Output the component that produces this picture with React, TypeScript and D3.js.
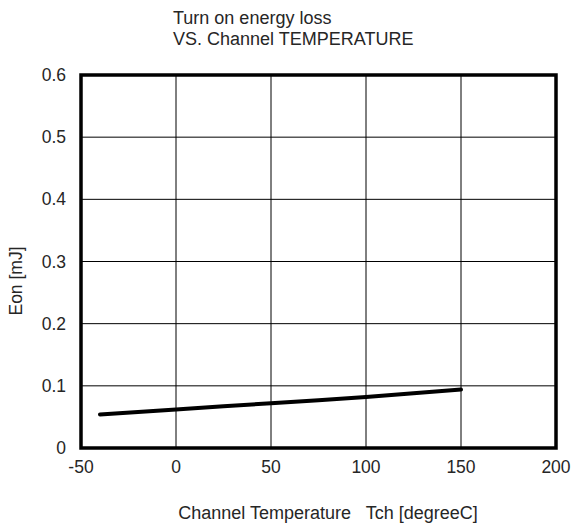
import React from "react";
import * as d3 from "d3";

const tempC: number[] = [-40, 0, 25, 50, 75, 100, 125, 150];
const eonMJ: number[] = [0.054, 0.062, 0.067, 0.072, 0.077, 0.082, 0.088, 0.094];
const xTicks: number[] = [-50, 0, 50, 100, 150, 200];
const yTicks: number[] = [0, 0.1, 0.2, 0.3, 0.4, 0.5, 0.6];
const titleLines: string[] = ["Turn on energy loss", "VS. Channel TEMPERATURE"];

export default function App() {
  const W = 575, H = 524;
  const left = 81, right = 556, top = 75, bottom = 448;
  const x = d3.scaleLinear().domain([-50, 200]).range([left, right]);
  const y = d3.scaleLinear().domain([0, 0.6]).range([bottom, top]);
  const line = d3.line<number>().x((_, i) => x(tempC[i])).y((d) => y(d));
  const font = "'Liberation Sans', Arial, sans-serif";
  const tc = "#262626";
  return (
    <svg width={W} height={H} style={{ position: "absolute", left: 0, top: 0, background: "#fff" }} fontFamily={font}>
      <rect x={0} y={0} width={W} height={H} fill="#fff" />
      {titleLines.map((t, i) => (
        <text key={t} x={173} y={24 + i * 21} fontSize={18} fill={tc}>{t}</text>
      ))}
      {xTicks.map((t) => (
        <line key={"gx" + t} x1={x(t)} x2={x(t)} y1={top} y2={bottom} stroke="#000" strokeWidth={1} />
      ))}
      {yTicks.map((t) => (
        <line key={"gy" + t} x1={left} x2={right} y1={y(t)} y2={y(t)} stroke="#000" strokeWidth={1} />
      ))}
      <path d={line(eonMJ) || ""} fill="none" stroke="#000" strokeWidth={4} strokeLinecap="round" strokeLinejoin="round" />
      <rect x={left} y={top} width={right - left} height={bottom - top} fill="none" stroke="#000" strokeWidth={3.5} />
      {yTicks.map((t) => (
        <text key={"ty" + t} x={66} y={y(t) + 6} fontSize={17.5} textAnchor="end" fill={tc}>{String(t)}</text>
      ))}
      {xTicks.map((t) => (
        <text key={"tx" + t} x={x(t)} y={473} fontSize={17.5} textAnchor="middle" fill={tc}>{String(t)}</text>
      ))}
      <text x={328} y={519} fontSize={18} textAnchor="middle" fill={tc} style={{ whiteSpace: "pre" }}>{"Channel Temperature   Tch [degreeC]"}</text>
      <text transform={`translate(22,281) rotate(-90)`} fontSize={17.5} textAnchor="middle" fill={tc}>Eon [mJ]</text>
    </svg>
  );
}
